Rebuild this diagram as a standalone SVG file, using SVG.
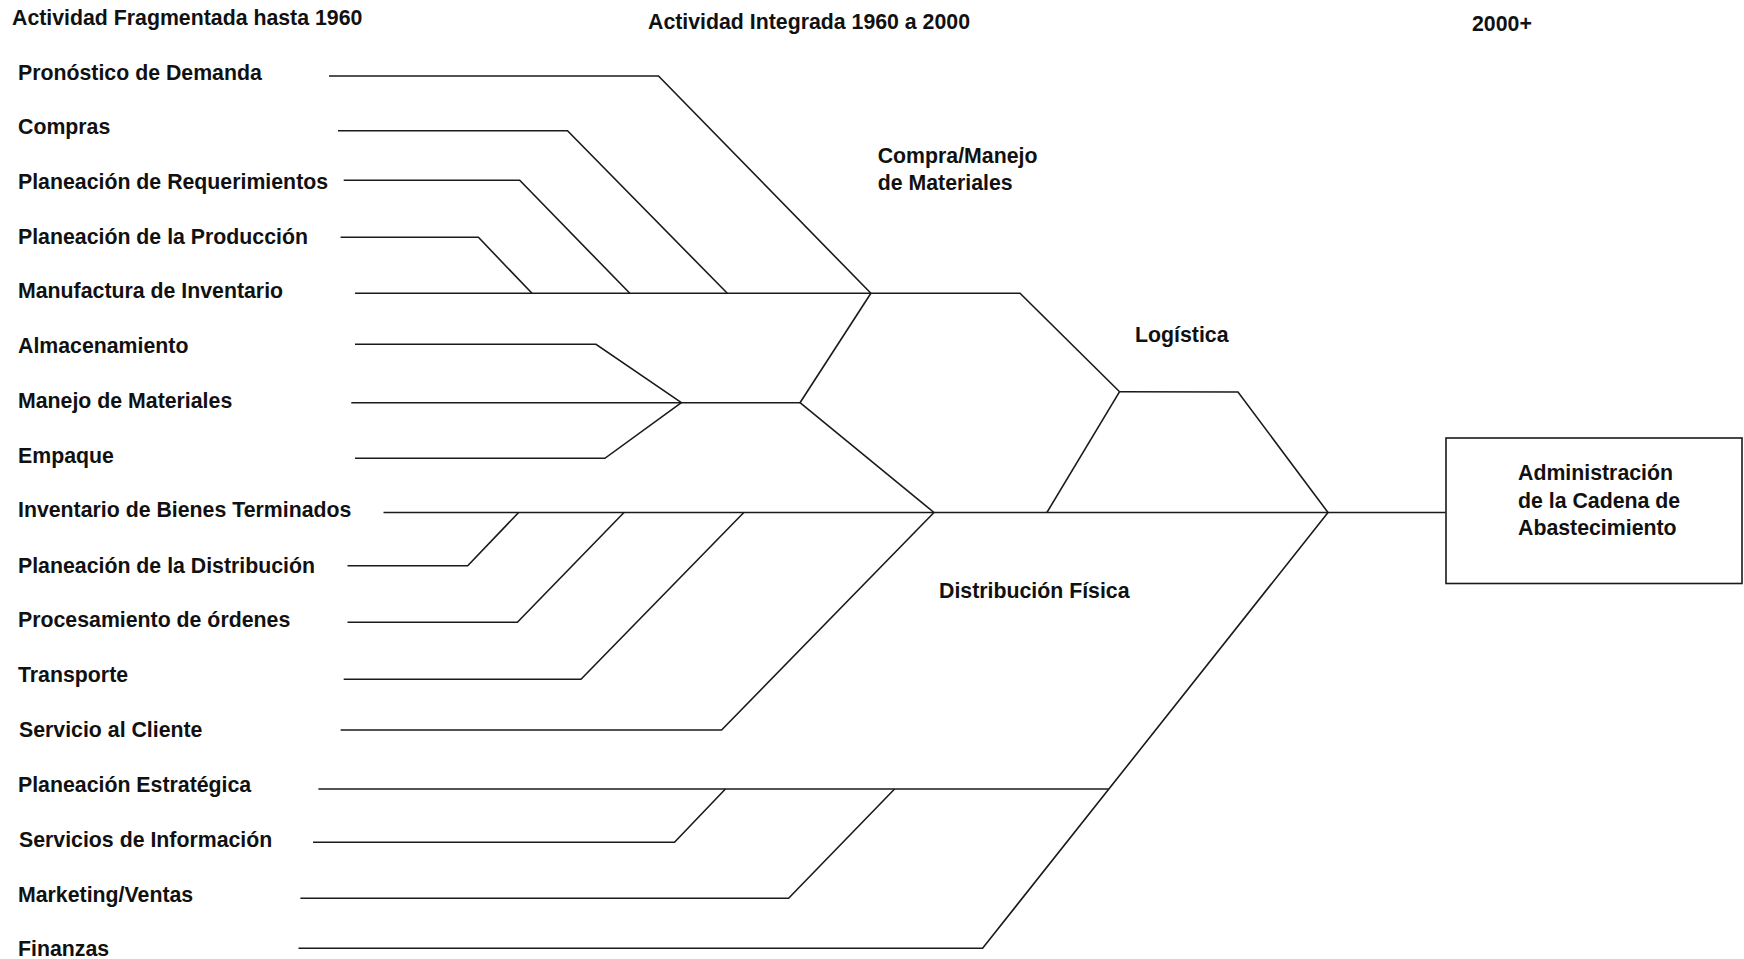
<svg xmlns="http://www.w3.org/2000/svg" width="1744" height="959" viewBox="0 0 1744 959">
<style>
text{font-family:"Liberation Sans",Arial,sans-serif;font-weight:bold;font-size:21.3px;fill:#111}
.c{fill:none;stroke:#1a1a1a;stroke-width:1.6;stroke-linejoin:miter}
.box{fill:#fff;stroke:#1a1a1a;stroke-width:1.6}
</style>
<rect width="1744" height="959" fill="#fff"/>
<g id="headers">
<text x="12" y="25">Actividad Fragmentada hasta 1960</text>
<text x="648" y="29">Actividad Integrada 1960 a 2000</text>
<text x="1472" y="31">2000+</text>
</g>
<g id="connectors">
<polyline class="c" points="329,76 658.5,76 870.9,293.3"/>
<polyline class="c" points="338,130.7 567.5,130.7 727.3,293.3"/>
<polyline class="c" points="343.7,180.3 519.7,180.3 629.8,293.3"/>
<polyline class="c" points="340.6,237.3 478.4,237.3 532,293.3"/>
<polyline class="c" points="355,293.3 1020,293.3 1119.6,391.7"/>
<polyline class="c" points="355,344.3 596,344.3 681.4,402.7"/>
<polyline class="c" points="351.3,402.7 800,402.7"/>
<polyline class="c" points="355,458.3 604.9,458.3 681.4,402.7"/>
<polyline class="c" points="800,402.7 870.9,293.3"/>
<polyline class="c" points="800,402.7 934,512.5"/>
<polyline class="c" points="383.5,512.5 1445.5,512.5"/>
<polyline class="c" points="347.5,565.7 467.7,565.7 518.6,512.5"/>
<polyline class="c" points="347.5,622.3 517.4,622.3 624,512.5"/>
<polyline class="c" points="343.7,679.3 581,679.3 743.8,512.5"/>
<polyline class="c" points="340.6,730 721.6,730 934,512.5"/>
<polyline class="c" points="1046.9,512.5 1119.6,391.7"/>
<polyline class="c" points="1119.6,391.7 1238,392 1328,512.5"/>
<polyline class="c" points="318.4,789 1108.5,789"/>
<polyline class="c" points="313,842.3 674.5,842.3 725.4,789"/>
<polyline class="c" points="300.4,898.3 788.6,898.3 894.6,789"/>
<polyline class="c" points="298.5,948.3 982.6,948.3 1328,512.5"/>
</g>
<g id="n-pronostico"><text x="18" y="80">Pronóstico de Demanda</text></g>
<g id="n-compras"><text x="18" y="133.5">Compras</text></g>
<g id="n-requerimientos"><text x="18" y="188.5">Planeación de Requerimientos</text></g>
<g id="n-produccion"><text x="18" y="243.5">Planeación de la Producción</text></g>
<g id="n-manufactura"><text x="18" y="298">Manufactura de Inventario</text></g>
<g id="n-almacenamiento"><text x="18" y="353.3">Almacenamiento</text></g>
<g id="n-manejo"><text x="18" y="408.3">Manejo de Materiales</text></g>
<g id="n-empaque"><text x="18" y="462.7">Empaque</text></g>
<g id="n-inventario"><text x="18" y="517.3">Inventario de Bienes Terminados</text></g>
<g id="n-distribucion"><text x="18" y="572.5">Planeación de la Distribución</text></g>
<g id="n-procesamiento"><text x="18" y="627">Procesamiento de órdenes</text></g>
<g id="n-transporte"><text x="18" y="681.7">Transporte</text></g>
<g id="n-servicio"><text x="19" y="736.5">Servicio al Cliente</text></g>
<g id="n-estrategica"><text x="18" y="791.5">Planeación Estratégica</text></g>
<g id="n-informacion"><text x="19" y="846.5">Servicios de Información</text></g>
<g id="n-marketing"><text x="18" y="901.5">Marketing/Ventas</text></g>
<g id="n-finanzas"><text x="18" y="956">Finanzas</text></g>
<g id="n-compra-manejo"><text x="877.7" y="162.7">Compra/Manejo</text><text x="877.7" y="190">de Materiales</text></g>
<g id="n-logistica"><text x="1135" y="341.7">Logística</text></g>
<g id="n-distribucion-fisica"><text x="939" y="597.7">Distribución Física</text></g>
<g id="n-scm">
<rect class="box" x="1446" y="438" width="296" height="145.5"/>
<text x="1518" y="480">Administración</text>
<text x="1518" y="507.5">de la Cadena de</text>
<text x="1518" y="535">Abastecimiento</text>
</g>
</svg>
